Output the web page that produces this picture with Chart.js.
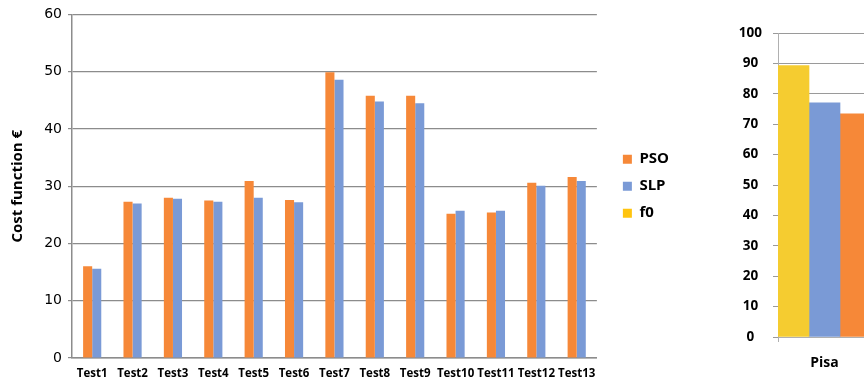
<!DOCTYPE html>
<html lang="en">
<head>
    <meta charset="UTF-8">
    <title>Cost function comparison</title>
    <script src="https://cdn.jsdelivr.net/npm/chart.js"></script>
    <style>
        body {
            margin: 0;
            width: 864px;
            height: 381px;
            overflow: hidden;
            background: white;
            position: relative;
        }
        #leftBox { position: absolute; left: 0; top: 0; width: 679px; height: 381px; }
        #rightBox { position: absolute; left: 718px; top: 0; width: 153px; height: 381px; }
    </style>
</head>
<body>
    <div id="leftBox"><canvas id="testsChart"></canvas></div>
    <div id="rightBox"><canvas id="pisaChart"></canvas></div>

    <script>
        // values
        const tests = ["Test1", "Test2", "Test3", "Test4", "Test5", "Test6", "Test7",
                       "Test8", "Test9", "Test10", "Test11", "Test12", "Test13"];
        const psoValues = [16.0, 27.3, 28.0, 27.5, 30.9, 27.6, 49.9, 45.8, 45.8, 25.2, 25.4, 30.6, 31.6];
        const slpValues = [15.6, 27.0, 27.8, 27.3, 28.0, 27.2, 48.6, 44.8, 44.5, 25.7, 25.7, 30.1, 30.9];

        const pisaLabels = ["Pisa"];
        const pisaF0 = [89.3];
        const pisaSlp = [77.0];
        const pisaPso = [73.4];

        const legendNames = ["PSO", "SLP", "f0"];

        const orange = "#F68838";
        const blue = "#7A9AD6";
        const yellow = "#F5CC30";
        const legendYellow = "#FFC40F";
        const legendColors = [orange, blue, legendYellow];
        const gridGray = "#8c8c8c";

        Chart.defaults.animation = false;
        Chart.defaults.color = "#000";

        new Chart(document.getElementById("testsChart"), {
            type: "bar",
            data: {
                labels: tests,
                datasets: [
                    { label: "PSO", data: psoValues, backgroundColor: orange },
                    { label: "SLP", data: slpValues, backgroundColor: blue }
                ]
            },
            options: {
                responsive: true,
                maintainAspectRatio: false,
                layout: { padding: { top: 6, right: 0 } },
                datasets: { bar: { categoryPercentage: 0.45, barPercentage: 1 } },
                scales: {
                    x: {
                        grid: { display: false },
                        border: { color: gridGray, width: 1.5 },
                        ticks: {
                            font: { family: "Open Sans", size: 11.5, weight: "bold" },
                            padding: 1,
                            maxRotation: 0,
                            autoSkip: false
                        },
                        afterFit: (axis) => { axis.height = 23; }
                    },
                    y: {
                        min: 0,
                        max: 60,
                        ticks: {
                            stepSize: 10,
                            font: { family: "DejaVu Sans", size: 14 },
                            padding: 6
                        },
                        grid: { color: gridGray, lineWidth: 1.2, tickLength: 4 },
                        border: { color: gridGray, width: 1.5 },
                        title: {
                            display: true,
                            text: "Cost function €",
                            font: { family: "Open Sans", size: 15, weight: "bold" },
                            padding: { top: 9, bottom: 0 }
                        },
                        afterFit: (axis) => { axis.width = 72; }
                    },
                    // empty spacer between the plot and the legend
                    gap: {
                        type: "linear",
                        position: "right",
                        display: true,
                        grid: { display: false },
                        border: { display: false },
                        ticks: { display: false },
                        afterFit: (axis) => { axis.width = 14; }
                    }
                },
                plugins: {
                    legend: {
                        position: "right",
                        fullSize: false,
                        labels: {
                            boxWidth: 9,
                            boxHeight: 9,
                            padding: 12,
                            font: { family: "Open Sans", size: 15, weight: "bold" },
                            generateLabels: () => legendNames.map((name, i) => ({
                                text: name,
                                fillStyle: legendColors[i],
                                strokeStyle: legendColors[i],
                                lineWidth: 0,
                                datasetIndex: i
                            }))
                        }
                    },
                    tooltip: { enabled: false }
                }
            }
        });

        new Chart(document.getElementById("pisaChart"), {
            type: "bar",
            data: {
                labels: pisaLabels,
                datasets: [
                    { label: "f0", data: pisaF0, backgroundColor: yellow },
                    { label: "SLP", data: pisaSlp, backgroundColor: blue },
                    { label: "PSO", data: pisaPso, backgroundColor: orange }
                ]
            },
            options: {
                responsive: true,
                maintainAspectRatio: false,
                layout: { padding: { top: 33, right: 0 } },
                datasets: { bar: { categoryPercentage: 1, barPercentage: 1 } },
                scales: {
                    x: {
                        grid: { display: true, drawOnChartArea: false, color: "#b0b0b0", tickLength: 5 },
                        border: { color: "#b0b0b0" },
                        ticks: {
                            font: { family: "Open Sans", size: 14, weight: "bold" },
                            padding: 13
                        },
                        afterFit: (axis) => { axis.height = 44; }
                    },
                    y: {
                        min: 0,
                        max: 100,
                        ticks: {
                            stepSize: 10,
                            crossAlign: "center",
                            font: { family: "Open Sans", size: 13.5, weight: "bold" },
                            padding: 11
                        },
                        grid: { color: "#9a9a9a", tickLength: 5 },
                        border: { color: "#b0b0b0" },
                        afterFit: (axis) => { axis.width = 60; }
                    }
                },
                plugins: {
                    legend: { display: false },
                    tooltip: { enabled: false }
                }
            }
        });
    </script>
</body>
</html>
